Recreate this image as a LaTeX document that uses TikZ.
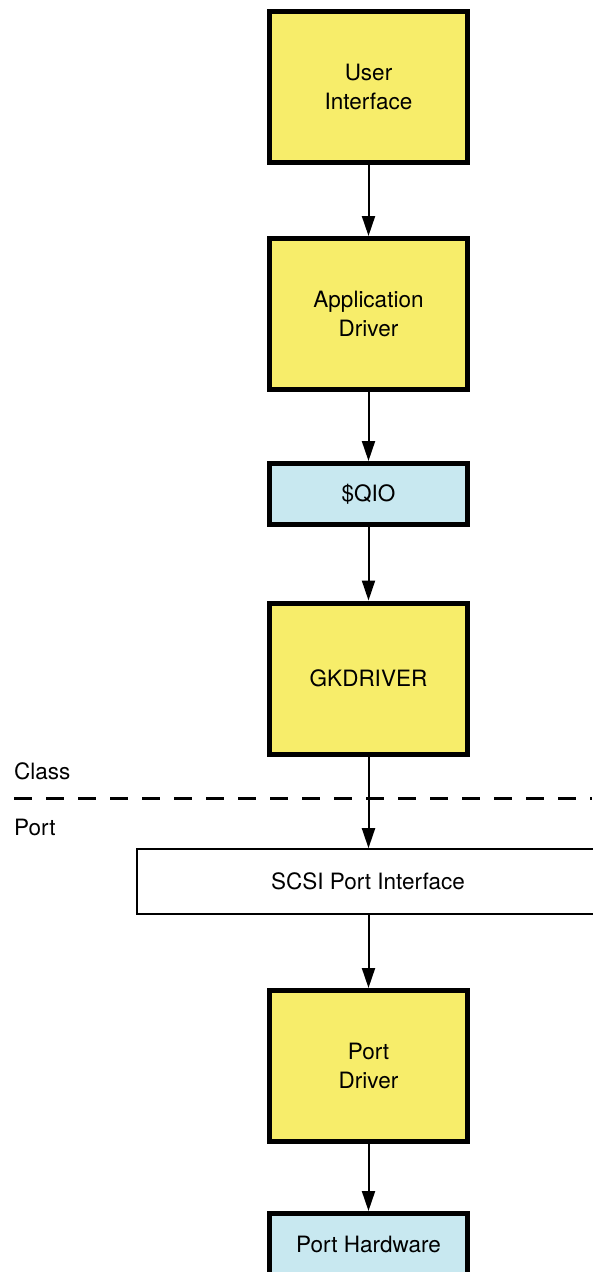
\documentclass[tikz,border=0pt]{standalone}
\usepackage{fontspec}
\setmainfont{TeX Gyre Heros}
\usepackage{tikz}
\usetikzlibrary{arrows.meta}
\definecolor{boxyellow}{RGB}{247,237,106}
\definecolor{boxblue}{RGB}{200,232,240}

\begin{document}
\begin{tikzpicture}[x=1pt, y=-1pt,
  every node/.style={font=\fontsize{22.5}{29}\selectfont, align=center, inner sep=0pt},
  bigbox/.style={draw, line width=5pt, fill=boxyellow, minimum width=198pt, minimum height=151pt},
  smallbox/.style={draw, line width=5pt, fill=boxblue, minimum width=198pt, minimum height=61pt},
  flat/.style={draw, line width=1.6pt, fill=white, minimum width=462pt, minimum height=65pt},
  arr/.style={line width=2pt, -{Triangle[length=20pt, width=13pt]}}]
  \useasboundingbox (0,0) rectangle (592,1272);
  % Boxes
  \node[bigbox] (ui) at (368.5,87) {User\\Interface};
  \node[bigbox] (app) at (368.5,314) {Application\\Driver};
  \node[smallbox] (qio) at (368.5,494) {\$QIO};
  \node[bigbox] (gk) at (368.5,678.5) {GKDRIVER};
  \node[flat] (scsi) at (368,881.5) {SCSI Port Interface};
  \node[bigbox] (pd) at (368.5,1066) {Port\\Driver};
  \node[smallbox] (hw) at (368.5,1244) {Port Hardware};
  % Class / Port boundary
  \draw[line width=3pt, dash pattern=on 18pt off 14pt] (14,798) -- (592,798);
  \node[anchor=base west] (cls) at (14,779) {Class};
  \node[anchor=base west] (prt) at (14,835) {Port};
  % Arrows
  \draw[arr] (ui) -- (app);
  \draw[arr] (app) -- (qio);
  \draw[arr] (qio) -- (gk);
  \draw[arr] (gk.south) -- (gk.south |- scsi.north);
  \draw[arr] (pd.north |- scsi.south) -- (pd.north);
  \draw[arr] (pd) -- (hw);
\end{tikzpicture}
\end{document}
